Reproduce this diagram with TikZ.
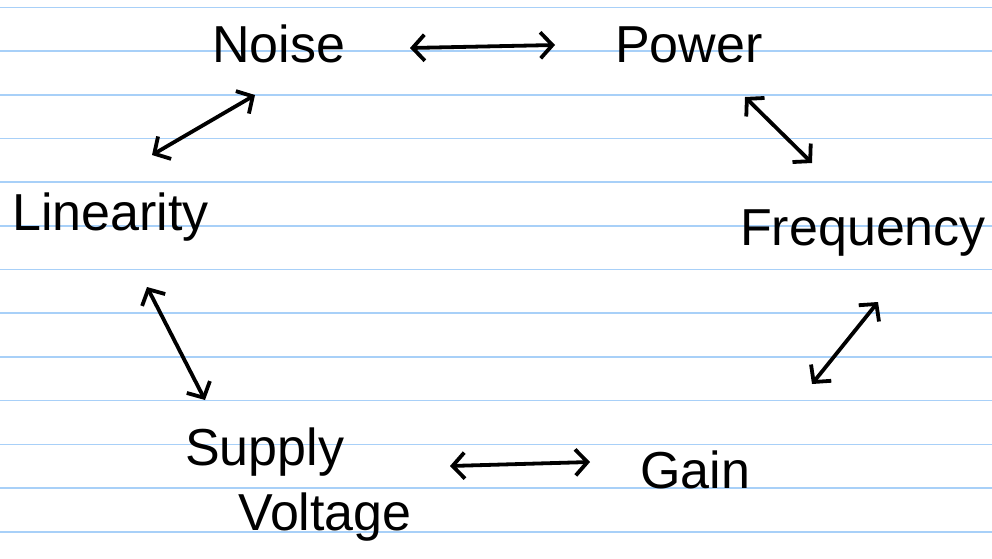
\documentclass[tikz,border=0pt]{standalone}
\usepackage{fontspec}
\setmainfont{Liberation Sans}
\usetikzlibrary{arrows.meta}
\definecolor{ruleblue}{RGB}{168,208,248}
\begin{document}
\begin{tikzpicture}[x=1pt,y=-1pt,
  lbl/.style={font=\fontsize{52}{58}\selectfont, inner sep=0pt, anchor=base west},
  link/.style={line width=3.8pt, line cap=round,
    {Straight Barb[length=12pt,width=26pt]}-{Straight Barb[length=12pt,width=26pt]}}]
% ruled sheet
\fill[white] (0,0) rectangle (992,558);
\useasboundingbox (0,0) rectangle (992,558);
\foreach \k in {0,...,12}
  \draw[ruleblue, line width=1.6pt] (0,{7.3+43.7*\k}) -- (992,{7.3+43.7*\k});

% labels
\node[lbl] (noise) at (212,62) {Noise};
\node[lbl] (power) at (615,62) {Power};
\node[lbl] (freq)  at (740,245) {Frequency};
\node[lbl] (lin)   at (12,230) {Linearity};
\node[lbl] (supply) at (185,465) {Supply};
\node[lbl] (volt)  at (238,530) {Voltage};
\node[lbl] (gain)  at (640,488) {Gain};

% arrow end points
\coordinate (np1) at (410,48);  \coordinate (np2) at (555,45);
\coordinate (pf1) at (745,97);  \coordinate (pf2) at (812,163);
\coordinate (fg1) at (878,302); \coordinate (fg2) at (812,384);
\coordinate (nl1) at (255,95);  \coordinate (nl2) at (152,155);
\coordinate (ls1) at (147,287); \coordinate (ls2) at (205,400);
\coordinate (sg1) at (450,466); \coordinate (sg2) at (590,462);

\draw[link] (np1) -- (np2);
\draw[link] (pf1) -- (pf2);
\draw[link] (fg1) -- (fg2);
\draw[link] (nl1) -- (nl2);
\draw[link] (ls1) -- (ls2);
\draw[link] (sg1) -- (sg2);
\end{tikzpicture}
\end{document}
